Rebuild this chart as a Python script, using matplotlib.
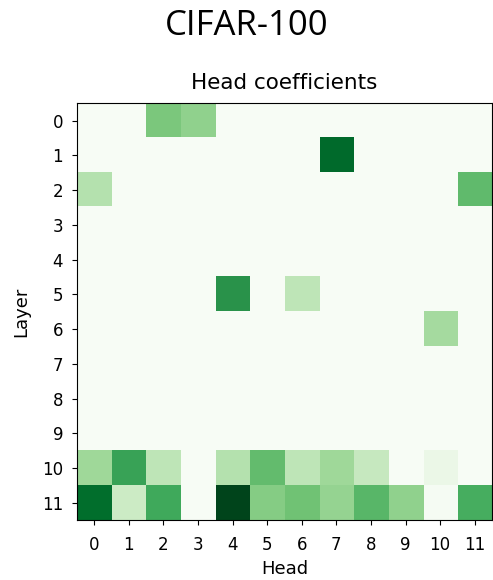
import numpy as np
import matplotlib
matplotlib.use('Agg')
import matplotlib.pyplot as plt

layers = list(range(12))
heads = list(range(12))

# nonzero coefficients per layer (head -> value); everything else is zero
row0 = {2: 0.48, 3: 0.42}
row1 = {7: 0.88}
row2 = {0: 0.31, 11: 0.55}
row5 = {4: 0.72, 6: 0.28}
row6 = {10: 0.36}
row10 = [0.38, 0.66, 0.28, 0.0, 0.31, 0.54, 0.28, 0.38, 0.25, 0.0, 0.08, 0.0]
row11 = [0.87, 0.23, 0.63, 0.0, 1.0, 0.45, 0.51, 0.41, 0.57, 0.42, 0.01, 0.61]

coef = np.zeros((12, 12))
for r, d in [(0, row0), (1, row1), (2, row2), (5, row5), (6, row6)]:
    for c, v in d.items():
        coef[r, c] = v
coef[10] = row10
coef[11] = row11

fig = plt.figure(figsize=(4.93, 5.8), dpi=100)
ax = fig.add_axes([0.156, 0.103, 0.842, 0.719])
ax.imshow(coef, cmap='Greens', vmin=0, vmax=1, aspect='auto')
ax.set_xticks(heads)
ax.set_yticks(layers)
ax.tick_params(axis='x', labelsize=12, pad=7.5)
ax.tick_params(axis='y', labelsize=12, pad=6.5)
ax.set_xlabel('Head', fontsize=13, labelpad=4.5)
ax.set_ylabel('Layer', fontsize=13, labelpad=8)
ax.set_title('Head coefficients', fontsize=15.5, pad=10)
fig.suptitle('CIFAR-100', fontsize=25, family=['Open Sans', 'DejaVu Sans'], y=0.985)

plt.savefig('out.png', dpi=100)
